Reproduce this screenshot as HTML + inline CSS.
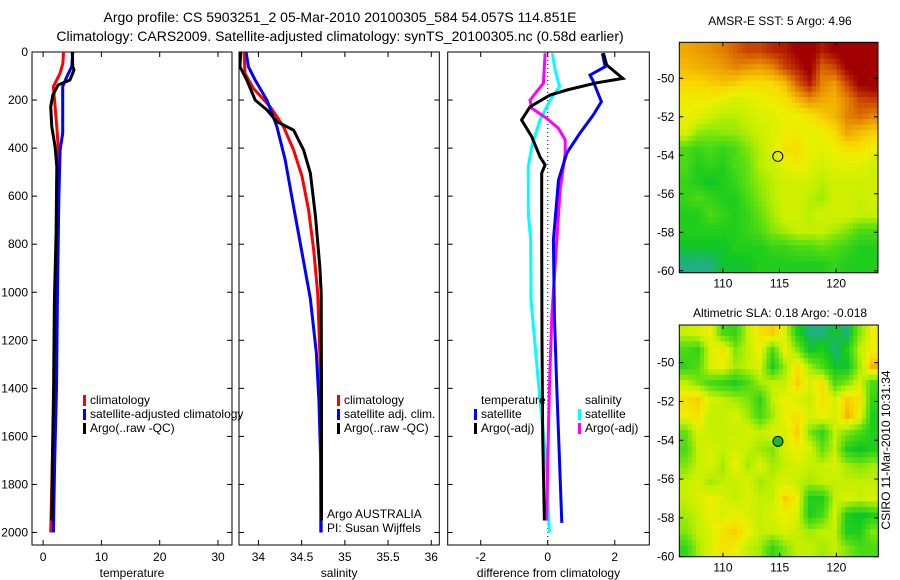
<!DOCTYPE html>
<html><head><meta charset="utf-8"><style>
html,body{margin:0;padding:0;background:#fff;}
svg{display:block;font-family:"Liberation Sans",sans-serif;}
text{fill:#000;}
</style></head><body>
<svg id="fig" width="900" height="580" viewBox="0 0 900 580">
<text x="340" y="22" font-size="14" text-anchor="middle">Argo profile: CS 5903251_2 05-Mar-2010 20100305_584 54.057S 114.851E</text>
<text x="340" y="41" font-size="14" text-anchor="middle">Climatology: CARS2009. Satellite-adjusted climatology: synTS_20100305.nc (0.58d earlier)</text>
<text x="780" y="25" font-size="12" text-anchor="middle">AMSR-E SST: 5 Argo: 4.96</text>
<text x="780" y="317" font-size="12" text-anchor="middle">Altimetric SLA: 0.18 Argo: -0.018</text>
<text transform="translate(890,450) rotate(-90)" font-size="12" text-anchor="middle">CSIRO 11-Mar-2010 10:31:34</text>
</svg>
<script>
// ---------- data ----------
const depthTicks=[0,200,400,600,800,1000,1200,1400,1600,1800,2000];
const tempTicks=[0,10,20,30];
const salTicks=[34,34.5,35,35.5,36];
const diffTicks=[-2,0,2];
const lonTicks=[110,115,120];
const latTicks=[-50,-52,-54,-56,-58,-60];

const tClimZ=[0,47,89,144,228,311,408,547,800,1000,1400,1800,2000];
const tClimV=[3.5,3.4,2.9,1.77,2.06,2.35,2.63,2.46,2.3,2.2,1.9,1.5,1.3];
const tSatZ=[0,61,103,144,338,408,616,1032,1400,1700,2000];
const tSatV=[5.1,4.9,4.06,3.37,3.37,2.92,2.69,2.46,2.3,2.0,1.77];
const tArgoZ=[0,61,75,117,137,179,228,311,394,477,754,1032,1400,1700,1950];
const tArgoV=[5.0,5.1,5.3,4.6,2.6,1.66,1.31,1.49,2.06,2.35,2.23,1.94,1.8,1.6,1.5];

const sClimZ=[0,89,151,228,311,408,519,658,824,1004,1300,1700,2000];
const sClimV=[33.834,33.845,33.94,34.136,34.29,34.407,34.505,34.58,34.64,34.686,34.715,34.72,34.72];
const sSatZ=[0,61,117,200,311,449,644,838,1025,1250,1450,1700,2000];
const sSatV=[33.857,33.884,33.962,34.098,34.214,34.31,34.407,34.505,34.6,34.67,34.7,34.72,34.726];
const sArgoZ=[0,61,117,200,241,290,325,408,505,685,893,1004,1400,1800,1950];
const sArgoV=[33.795,33.787,33.865,33.962,34.098,34.214,34.407,34.523,34.601,34.66,34.71,34.726,34.73,34.73,34.73];

const dTSatZ=[5,61,96,117,207,262,338,420,533,782,1100,1400,1700,1960];
const dTSatV=[1.63,1.71,1.26,1.34,1.6,1.36,0.96,0.57,0.32,0.17,0.2,0.27,0.35,0.42];
const dTArgoZ=[5,54,110,128,158,179,228,283,352,436,470,504,782,1200,1600,1950];
const dTArgoV=[1.66,1.76,2.24,1.46,0.57,0.07,-0.53,-0.78,-0.48,-0.23,-0.08,-0.18,-0.18,-0.17,-0.15,-0.1];
const dSSatZ=[5,75,144,200,283,394,477,671,782,1030,1450,1700,2000];
const dSSatV=[0.14,0.22,0.35,0.07,-0.23,-0.48,-0.58,-0.58,-0.51,-0.5,-0.23,-0.05,0.05];
const dSArgoZ=[5,130,200,234,276,318,366,422,574,782,1100,1400,1700,1950];
const dSArgoV=[-0.08,-0.13,-0.53,-0.48,-0.03,0.32,0.52,0.52,0.37,0.27,0.12,0.05,0.0,-0.03];

const sstGrid=[
[.68,.7,.72,.75,.8,.85,.85,.9,.92,.98,1,.92,.98,1,1,1],
[.64,.66,.68,.7,.74,.72,.7,.74,.85,.92,1,.8,.85,.98,1,1],
[.58,.58,.6,.62,.6,.56,.56,.58,.64,.8,.92,.74,.7,.85,.98,1],
[.52,.52,.52,.48,.44,.46,.5,.52,.55,.64,.72,.68,.66,.74,.84,.86],
[.5,.47,.42,.38,.38,.42,.45,.46,.5,.5,.55,.6,.65,.74,.78,.74],
[.45,.33,.3,.32,.33,.37,.42,.46,.5,.52,.48,.5,.56,.68,.64,.6],
[.2,.15,.2,.15,.2,.3,.38,.46,.55,.56,.5,.47,.5,.55,.55,.5],
[.2,.1,.15,.1,.2,.25,.38,.42,.47,.52,.47,.43,.47,.47,.47,.43],
[.15,.1,.05,.1,.15,.25,.33,.38,.43,.43,.43,.38,.43,.43,.43,.43],
[.15,.2,.15,.1,.1,.2,.3,.38,.43,.43,.38,.35,.43,.43,.4,.43],
[.1,.1,.2,.15,.1,.15,.25,.35,.43,.43,.38,.43,.43,.43,.4,.4],
[.1,.1,.1,.1,.1,.15,.2,.3,.35,.4,.4,.4,.35,.3,.2,.2],
[.05,.05,.05,.05,.1,.1,.1,.15,.15,.2,.2,.25,.2,.15,.1,.1],
[0,0,0,.05,.05,.05,.1,.1,.1,.1,.1,.1,.15,.1,.1,.1]];
const slaGrid=[
[.4,.45,.5,.2,.15,.4,.55,.6,.45,.1,0,0,.05,0,.3,.5],
[.2,.15,.45,.55,.3,.4,.5,.2,.5,.3,.05,.1,0,.1,.4,.5],
[.15,.2,.45,.5,.35,.4,.45,.1,.35,.55,.35,.2,.05,.05,.35,.65],
[.4,.3,.2,.15,.1,.2,.35,.4,.4,.6,.45,.55,.2,.3,.45,.2],
[.55,.6,.45,.4,.35,.3,.15,.4,.5,.45,.4,.55,.45,.6,.55,.15],
[.5,.55,.4,.4,.45,.35,.2,.35,.5,.55,.45,.5,.45,.65,.5,.1],
[.25,.45,.4,.4,.4,.45,.4,.45,.45,.6,.3,.15,.4,.3,.2,.1],
[.2,.4,.45,.4,.45,.4,.35,.3,.45,.5,.45,.25,.4,.1,.05,.1],
[.3,.4,.45,.35,.5,.35,.45,.35,.4,.45,.4,.4,.45,.35,.3,.35],
[.4,.45,.35,.4,.4,.45,.35,.4,.45,.4,.35,.4,.4,.4,.4,.4],
[.4,.45,.5,.45,.4,.45,.4,.4,.6,.5,.1,.1,.4,.45,.4,.45],
[.35,.4,.5,.45,.5,.45,.4,.45,.5,.45,.1,.2,.45,.1,.05,.1],
[.3,.4,.45,.55,.6,.5,.4,.4,.45,.4,.35,.4,.4,.1,.1,.3],
[.15,.35,.45,.55,.5,.4,.35,.15,.3,.4,.4,.35,.4,.3,.2,.2]];
const argoLon=114.851, argoLat=-54.057;

// ---------- drawing ----------
const svg=document.getElementById('fig');
const NS='http://www.w3.org/2000/svg';
function mk(tag,attrs,parent){const e=document.createElementNS(NS,tag);for(const k in attrs)e.setAttribute(k,attrs[k]);(parent||svg).appendChild(e);return e;}
const Y0=52,Y1=545,ZMAX=2052;
const yz=z=>Y0+(z/ZMAX)*(Y1-Y0);
function lin(d0,d1,r0,r1){return v=>r0+(v-d0)/(d1-d0)*(r1-r0);}

function panel(name,x0,x1,d0,d1,ticks,xlabel,showY){
  const g=mk('g',{});
  
  
  const xs=lin(d0,d1,x0,x1);
  const r=mk('rect',{x:x0,y:Y0,width:x1-x0,height:Y1-Y0,fill:'none',stroke:'#000','stroke-width':1},g);
  
  
  ticks.forEach(t=>{
    const x=xs(t);
    mk('line',{x1:x,x2:x,y1:Y1,y2:Y1-5,stroke:'#000'},g);
    mk('line',{x1:x,x2:x,y1:Y0,y2:Y0+5,stroke:'#000'},g);
    const tx=mk('text',{x:x,y:Y1+16,'font-size':12,'text-anchor':'middle'},g);
    tx.textContent=t;
    
    
  });
  depthTicks.forEach(d=>{
    const y=yz(d);
    mk('line',{x1:x0,x2:x0+5,y1:y,y2:y,stroke:'#000'},g);
    mk('line',{x1:x1,x2:x1-5,y1:y,y2:y,stroke:'#000'},g);
    if(showY){const tx=mk('text',{x:x0-4,y:y+4,'font-size':12,'text-anchor':'end'},g);tx.textContent=d;
      
      }
  });
  const lb=mk('text',{x:(x0+x1)/2,y:Y1+32,'font-size':12,'text-anchor':'middle'},g);
  lb.textContent=xlabel;
  
  
  return {g,xs};
}
function curve(p,Z,V,color,name){
  const pts=Z.map((z,i)=>p.xs(V[i]).toFixed(1)+','+yz(z).toFixed(1)).join(' ');
  const l=mk('polyline',{points:pts,fill:'none',stroke:color,'stroke-width':3,'stroke-linejoin':'miter'},p.g);
  
  
}
function legend(g,x,y,items,name){
  items.forEach((it,i)=>{
    if(it[1]){const m=mk('rect',{x:x,y:y+i*14-9,width:3,height:11,fill:it[1]},g);
      
      }
    const t=mk('text',{x:x+7,y:y+i*14,'font-size':12},g);t.textContent=it[0];
    
    
  });
}

const p1=panel('temperature',32,232,-1.9,32.4,tempTicks,'temperature',true);
curve(p1,tClimZ,tClimV,'#f00','temp-climatology-line');
curve(p1,tSatZ,tSatV,'#00f','temp-satellite-line');
curve(p1,tArgoZ,tArgoV,'#000','temp-argo-line');
legend(p1.g,83,404,[['climatology','#f00'],['satellite-adjusted climatology','#00f'],['Argo(..raw -QC)','#000']],'temp-legend');

const p2=panel('salinity',239,439.3,33.775,36.093,salTicks,'salinity',false);
curve(p2,sClimZ,sClimV,'#f00','sal-climatology-line');
curve(p2,sSatZ,sSatV,'#00f','sal-satellite-line');
curve(p2,sArgoZ,sArgoV,'#000','sal-argo-line');
legend(p2.g,337,404,[['climatology','#f00'],['satellite adj. clim.','#00f'],['Argo(..raw -QC)','#000']],'sal-legend');
const c1=mk('text',{x:327,y:518,'font-size':12},p2.g);c1.textContent='Argo AUSTRALIA';


const c2=mk('text',{x:327,y:532,'font-size':12},p2.g);c2.textContent='PI: Susan Wijffels';



const p3=panel('difference',447.7,649.3,-2.985,3.03,diffTicks,'difference from climatology',false);
const zl=mk('line',{x1:p3.xs(0),x2:p3.xs(0),y1:Y0,y2:Y1,stroke:'#000','stroke-dasharray':'1,3'},p3.g);


curve(p3,dSSatZ,dSSatV,'#0ff','diff-sal-satellite-line');
curve(p3,dSArgoZ,dSArgoV,'#f0f','diff-sal-argo-line');
curve(p3,dTSatZ,dTSatV,'#00f','diff-temp-satellite-line');
curve(p3,dTArgoZ,dTArgoV,'#000','diff-temp-argo-line');
legend(p3.g,474,404,[['temperature',null],['satellite','#00f'],['Argo(-adj)','#000']],'diff-temp-legend');
legend(p3.g,578,404,[['salinity',null],['satellite','#0ff'],['Argo(-adj)','#f0f']],'diff-sal-legend');

// colormap
const stops=[[0,[32,176,130]],[0.06,[16,200,32]],[0.25,[96,224,16]],[0.4,[196,240,0]],[0.5,[236,240,0]],[0.58,[248,216,0]],[0.68,[240,168,0]],[0.78,[220,110,0]],[0.88,[192,50,0]],[0.97,[160,0,0]],[1,[160,0,0]]];
function cmap(v){v=Math.max(0,Math.min(1,v));for(let i=1;i<stops.length;i++){if(v<=stops[i][0]){const a=stops[i-1],b=stops[i],t=(v-a[0])/(b[0]-a[0]);
  const c=a[1].map((q,k)=>Math.round(q+(b[1][k]-q)*t));return 'rgb('+c.join(',')+')';}}return 'rgb(160,0,0)';}

// bilinear sample of a grid (cell-centred) at fractional position
function sample(grid,fi,fj){
  const R=grid.length,C=grid[0].length;
  fi=Math.max(0,Math.min(R-1,fi));fj=Math.max(0,Math.min(C-1,fj));
  const i0=Math.floor(fi),j0=Math.floor(fj),i1=Math.min(R-1,i0+1),j1=Math.min(C-1,j0+1),a=fi-i0,b=fj-j0;
  return grid[i0][j0]*(1-a)*(1-b)+grid[i0][j1]*(1-a)*b+grid[i1][j0]*a*(1-b)+grid[i1][j1]*a*b;
}
function map(name,grid,x0,x1,y0,y1,lon0,lon1,lat0,lat1,filledDot){
  const g=mk('g',{});
  
  
  const xs=lin(lon0,lon1,x0,x1), ys=lin(lat0,lat1,y0,y1);
  const R=grid.length,C=grid[0].length,UP=3,RR=R*UP,CC=C*UP,cw=(x1-x0)/CC,ch=(y1-y0)/RR;
  for(let i=0;i<RR;i++)for(let j=0;j<CC;j++){
    const v=sample(grid,(i+0.5)/UP-0.5,(j+0.5)/UP-0.5);
    const c=mk('rect',{x:(x0+j*cw).toFixed(2),y:(y0+i*ch).toFixed(2),width:(cw+0.5).toFixed(2),height:(ch+0.5).toFixed(2),fill:cmap(v)},g);
    
    
  }
  const b=mk('rect',{x:x0,y:y0,width:x1-x0,height:y1-y0,fill:'none',stroke:'#000'},g);
  
  
  lonTicks.forEach(t=>{const x=xs(t);
    mk('line',{x1:x,x2:x,y1:y1,y2:y1-4,stroke:'#000'},g);mk('line',{x1:x,x2:x,y1:y0,y2:y0+4,stroke:'#000'},g);
    const tx=mk('text',{x:x,y:y1+15,'font-size':12,'text-anchor':'middle'},g);tx.textContent=t;
    
    });
  latTicks.forEach(t=>{const y=ys(t);
    mk('line',{x1:x0,x2:x0+4,y1:y,y2:y,stroke:'#000'},g);mk('line',{x1:x1,x2:x1-4,y1:y,y2:y,stroke:'#000'},g);
    const tx=mk('text',{x:x0-5,y:y+4,'font-size':12,'text-anchor':'end'},g);tx.textContent=t;
    
    });
  const d=mk('circle',{cx:xs(argoLon),cy:ys(argoLat),r:5,fill:filledDot?'#10c020':'none',stroke:'#000','stroke-width':1},g);
  
  
}
map('sst-map',sstGrid,679.3,878,42.3,272.7,106.15,123.7,-48.13,-60.1,false);
map('sla-map',slaGrid,679.3,878.3,325,556.7,106.15,123.7,-48.06,-60.0,true);
</script>
</body></html>
